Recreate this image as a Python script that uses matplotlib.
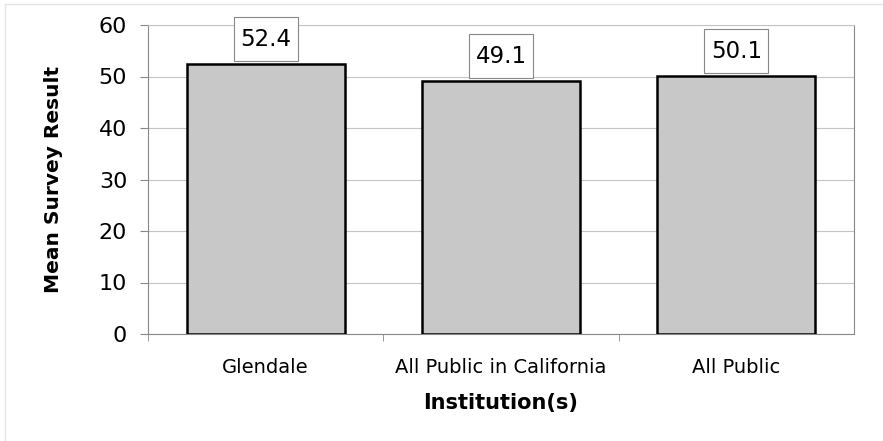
import matplotlib.pyplot as plt
from matplotlib.patches import Rectangle
from matplotlib.path import Path

# mean survey result per institution group
institutions = ["Glendale", "All Public in California", "All Public"]
mean_scores = [52.4, 49.1, 50.1]
y_ticks = [0, 10, 20, 30, 40, 50, 60]


def label_box(x0, y0, width, height, mutation_size):
    # square box, padded more vertically than horizontally
    px, py = 0.28 * mutation_size, 0.46 * mutation_size
    x0, y0 = x0 - px, y0 - py
    x1, y1 = x0 + width + 2 * px, y0 + height + 2 * py
    return Path([(x0, y0), (x1, y0), (x1, y1), (x0, y1), (x0, y0)], closed=True)


fig = plt.figure(figsize=(8.83, 4.41), dpi=100)
fig.patches.append(Rectangle((5 / 883, -0.1), 1.2, 1 - 4 / 441 + 0.1,
                             transform=fig.transFigure, fill=False,
                             edgecolor="#e4e4e4", linewidth=1))
ax = fig.add_axes([148 / 883, 1 - 334 / 441, (854 - 148) / 883, (334 - 25) / 441])

pos = list(range(len(institutions)))
bars = ax.bar(pos, mean_scores, width=0.67, color="#c8c8c8",
              edgecolor="black", linewidth=1.8, zorder=3)

for x, v in zip(pos, mean_scores):
    ax.annotate(f"{v:.1f}", (x, v), xytext=(0, 9.5), textcoords="offset points",
                ha="center", va="bottom", fontsize=16.5, zorder=4,
                bbox=dict(boxstyle=label_box, fc="white",
                          ec="#888888", lw=0.8))

ax.set_xlim(-0.5, len(institutions) - 0.5)
ax.set_ylim(0, 60)
ax.set_yticks(y_ticks)
ax.tick_params(axis="y", labelsize=16, length=6, color="#888888", pad=9)
ax.set_xticks(pos)
ax.set_xticklabels(institutions, fontsize=14)
ax.tick_params(axis="x", which="major", length=0, pad=17.5)
ax.set_xticks([p + 0.5 for p in pos[:-1]] + [-0.5], minor=True)
ax.tick_params(axis="x", which="minor", length=5, color="#888888")

ax.grid(axis="y", color="#c4c4c4", linewidth=0.8, zorder=0)
for s in ax.spines.values():
    s.set_color("#888888")
    s.set_linewidth(0.8)
ax.spines["top"].set_color("#c4c4c4")

ax.set_ylabel("Mean Survey Result", fontsize=14.5, fontweight="bold", labelpad=26)
ax.set_xlabel("Institution(s)", fontsize=15, fontweight="bold", labelpad=11)

fig.savefig("out.png", dpi=100)
